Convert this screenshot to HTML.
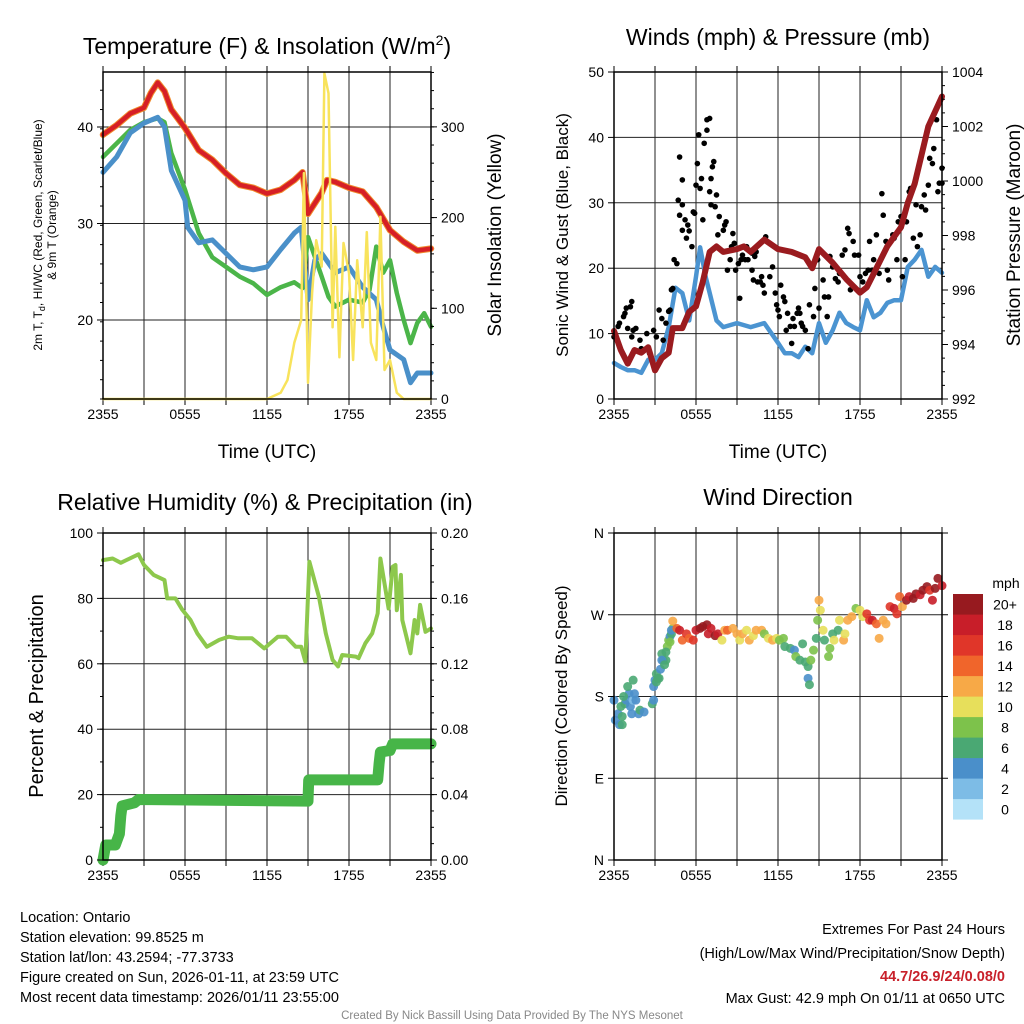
<!DOCTYPE html>
<html><head><meta charset="utf-8"><style>
html,body{margin:0;padding:0;background:#fff;}
svg{display:block;font-family:"Liberation Sans",sans-serif;}
</style></head><body>
<svg id="chart" width="1024" height="1024" viewBox="0 0 1024 1024" xmlns="http://www.w3.org/2000/svg">
<rect x="0" y="0" width="1024" height="1024" fill="#fff"/>
<text x="267" y="54" font-size="23" text-anchor="middle">Temperature (F) &amp; Insolation (W/m<tspan font-size="14" dy="-9">2</tspan><tspan dy="9">)</tspan></text>
<text x="778" y="45" font-size="23" text-anchor="middle">Winds (mph) &amp; Pressure (mb)</text>
<text x="265" y="510" font-size="23" text-anchor="middle">Relative Humidity (%) &amp; Precipitation (in)</text>
<text x="778" y="505" font-size="23" text-anchor="middle">Wind Direction</text>

<text x="267" y="458" font-size="19" text-anchor="middle">Time (UTC)</text>
<text x="778" y="458" font-size="19" text-anchor="middle">Time (UTC)</text>

<text transform="translate(42,235) rotate(-90)" font-size="12" text-anchor="middle">2m T, T<tspan font-size="9" dy="3">d</tspan><tspan dy="-3">, HI/WC (Red, Green, Scarlet/Blue)</tspan></text>
<text transform="translate(56,235) rotate(-90)" font-size="12" text-anchor="middle">&amp; 9m T (Orange)</text>
<text transform="translate(501,235) rotate(-90)" font-size="19" text-anchor="middle">Solar Insolation (Yellow)</text>
<text transform="translate(568,235) rotate(-90)" font-size="17" text-anchor="middle">Sonic Wind &amp; Gust (Blue, Black)</text>
<text transform="translate(1020,235) rotate(-90)" font-size="19" text-anchor="middle">Station Pressure (Maroon)</text>
<text transform="translate(43,696) rotate(-90)" font-size="20" text-anchor="middle">Percent &amp; Precipitation</text>
<text transform="translate(567,696) rotate(-90)" font-size="17" text-anchor="middle">Direction (Colored By Speed)</text>

<g font-size="14.5">
<text x="20" y="922">Location: Ontario</text>
<text x="20" y="942">Station elevation: 99.8525 m</text>
<text x="20" y="962">Station lat/lon: 43.2594; -77.3733</text>
<text x="20" y="982">Figure created on Sun, 2026-01-11, at 23:59 UTC</text>
<text x="20" y="1002">Most recent data timestamp: 2026/01/11 23:55:00</text>
</g>
<g font-size="14.5" text-anchor="end">
<text x="1005" y="934">Extremes For Past 24 Hours</text>
<text x="1005" y="958">(High/Low/Max Wind/Precipitation/Snow Depth)</text>
<text x="1005" y="981" fill="#c8202a" font-weight="bold">44.7/26.9/24/0.08/0</text>
<text x="1005" y="1003">Max Gust: 42.9 mph On 01/11 at 0650 UTC</text>
</g>
<text x="512" y="1019" font-size="11.5" fill="#888" text-anchor="middle">Created By Nick Bassill Using Data Provided By The NYS Mesonet</text>
<g id="layer"></g>
</svg>
<script>
// ---- Panel 1 data: hours, temperature series (F), solar (W/m2)
const tHours = [0,1,2,3,3.5,4,4.5,5,6,7,8,9,10,11,12,13,14,14.6,15,16,16.4,17,18,19,20,21,22,23,24];
const tempT = [39.2,40.2,41.4,42,43.5,44.6,43.7,41.8,39.9,37.6,36.6,35.2,34,33.7,33.1,33.5,34.5,35.3,31,33.2,34.5,34.3,33.7,33.3,31.7,29.3,28.1,27.2,27.4];
const hiHours = [0,1,2,3,4,4.5,5,6,7,8,9,10,11,12,13,14,14.6,15,16,16.5,17,18,19,19.5,20,20.5,21,21.5,22,22.5,23,23.5,24];
const heatIndex = [36.9,38.3,39.7,40.5,40.9,40.5,37.3,33.5,29,26.5,25.5,24.5,23.8,22.6,23.4,23.9,23.3,28.6,24.5,22.4,21.4,22.1,21.8,23.1,27.6,24.9,26.2,22.8,20,17.6,19.7,20.7,19.3];
const tdHours = [0,1,2,3,4,4.5,5,6,6.2,7,8,9,10,11,12,13,14,14.5,15,15.5,16,17,18,19,20,20.5,21,22,22.5,23,24];
const dewPoint = [35.3,36.9,39.4,40.4,41,40,35.5,32.4,29.6,28,28.3,26.9,25.5,25.2,25.5,27.3,29,29.6,22.1,26.2,26.9,24.9,25.5,23.4,22.1,19.3,16.9,15.9,13.5,14.5,14.5];
const solHours = [0,12,13,13.5,14,14.5,14.7,15,15.3,15.6,16,16.2,16.5,16.8,17,17.3,17.6,18,18.3,18.6,19,19.3,19.6,20,20.3,20.6,21,21.5,22,24];
const solar = [0,0,7,21,62,87,249,18,117,175,146,359,337,79,190,46,172,139,43,153,79,184,62,43,201,32,43,7,0,0];
const tempTicks = [20,30,40];
const solarTicks = [0,100,200,300];
const timeLabels = ["2355","0555","1155","1755","2355"];

// ---- Panel 2 data
const pHours = [0,0.5,1,1.5,2,2.5,3,3.5,4,4.3,5,5.5,6,6.5,7,7.5,8,9,9.5,10,11,12,13,14,14.5,15,16,17,18,18.5,19,20,21,21.5,22,23,24];
const pressure = [994.5,993.8,993.3,993.8,993.7,993.9,993.05,993.5,993.7,994.6,994.6,995.2,995.4,996.3,997.4,997.6,997.4,997.5,997.6,997.4,997.85,997.5,997.4,997.2,996.8,997.5,997,996.4,995.9,996.1,996.6,997.6,998.3,999.2,999.9,1002,1003.1];
const wHours = [0,0.5,1,1.5,2,2.5,3,3.5,4,4.5,5,5.5,6,6.3,6.7,7,7.5,8,9,10,11,12,12.5,13,13.5,14,14.5,15,15.5,16,16.5,17,17.5,18,18.5,19,19.5,20,20.5,21,21.5,22,22.5,23,23.5,24];
const windSpeed = [5.5,4.9,4.4,4.4,4,6,6,7,11,17,16.2,12,18.7,23.2,18.7,16.2,12,11,11.6,11,11.6,8.6,7,7,6.4,8,7,11.6,8.6,10.5,13.2,11.6,11,10.5,15.1,12.5,13.2,14.7,15.1,15.1,20.2,21.3,22.8,18.7,20.2,19.3];
const gusts = [[0,9.5],[0.3,11.1],[0.7,12.6],[0.9,13.9],[1.2,14.1],[1.3,14.9],[0.8,13.1],[0.4,11.6],[1.0,10.8],[1.4,10.5],[1.6,10.8],[1.3,9.5],[1.9,9],[2.0,7.7],[2.4,10],[2.6,7],[2.9,10.5],[3.1,9.5],[3.3,13.6],[3.5,12.3],[3.6,9],[3.8,11.6],[4.0,13.4],[4.1,13.6],[4.2,16.7],[4.3,16.9],[4.4,21.3],[4.6,20.7],[4.7,30.4],[4.8,37],[4.8,28.1],[5.0,33.5],[5.0,29.7],[5.0,25.8],[5.2,27.4],[5.3,24.6],[5.4,26.6],[5.5,25.7],[5.7,23.3],[5.8,28.6],[5.9,28.4],[6.0,32.7],[6.1,36],[6.2,40.4],[6.3,32.2],[6.4,33.7],[6.5,27.4],[6.6,39.1],[6.8,42.7],[6.8,41.1],[7.0,42.9],[7.0,31.7],[7.1,33.7],[7.1,29.7],[7.2,35.5],[7.3,36.3],[7.4,29.4],[7.5,31.2],[7.7,27.9],[7.6,25.1],[8.0,25.8],[8.1,26.6],[8.2,27.1],[8.3,19.7],[8.5,21.3],[8.6,23.3],[8.7,25.3],[8.8,23.8],[8.9,19.7],[9.1,20.7],[9.2,15.4],[9.3,21.3],[9.4,22],[9.6,21.3],[9.7,23.3],[9.8,21.3],[10.1,22.3],[10.1,19.7],[10.2,18.2],[10.3,21.8],[10.4,22.5],[10.5,17.9],[10.7,17.9],[10.8,18.7],[10.9,17.4],[11.0,16.2],[11.1,24.8],[11.4,18.7],[11.6,20.2],[11.8,16.2],[11.9,14.4],[12.0,13.6],[12.1,12.6],[12.2,17.4],[12.4,15.6],[12.5,14.9],[12.6,10.5],[12.7,13.1],[12.9,11.1],[13.0,8.5],[13.1,12.3],[13.2,11.1],[13.4,13.1],[13.5,13.9],[13.6,13.1],[13.7,11.6],[13.8,11.1],[14.0,10.5],[14.2,7.7],[14.3,14.4],[14.6,12.6],[14.7,16.9],[14.9,21.3],[15.0,13.9],[15.3,18.2],[15.4,15.6],[15.6,12.6],[15.7,15.6],[15.8,21.8],[16.0,20.2],[16.2,18.4],[16.4,17.9],[16.5,19.2],[16.7,22],[16.9,22.8],[17.1,26.1],[17.2,25.3],[17.3,16.7],[17.5,24.1],[17.6,22],[17.9,22],[18.0,18.7],[18.2,17.9],[18.4,19.2],[18.6,19.7],[18.7,24.1],[18.9,19.7],[19.0,21.3],[19.2,25.1],[19.4,19.2],[19.6,31.4],[19.7,28.1],[19.9,24.1],[20.0,19.7],[20.1,18.2],[20.4,25.1],[20.5,24.6],[20.7,21.3],[20.8,27.1],[21.0,27.9],[21.1,18.7],[21.3,21.3],[21.4,27.1],[21.6,31.7],[21.7,32.2],[21.9,24.6],[22.1,29.7],[22.2,23.3],[22.4,25.1],[22.5,29.4],[22.7,31.2],[22.8,28.9],[23.0,32.7],[23.1,36.8],[23.3,36],[23.4,38.3],[23.6,42.7],[23.7,31.7],[23.8,33],[24.0,35.3],[24.0,33]];
const windTicks = [0,10,20,30,40,50];
const pressureTicks = [992,994,996,998,1000,1002,1004];

// ---- Panel 3 data
const rhHours = [0,0.7,1.3,2.6,3,3.7,4.5,4.7,5.3,5.8,6.4,6.9,7.6,8.5,9.2,9.9,10.9,11.8,12.8,13.4,14.1,14.5,14.8,15.1,15.8,16.3,16.8,17.2,17.5,18.5,18.7,19.2,19.7,20.1,20.3,20.6,20.9,21.2,21.4,21.5,21.8,21.9,22.5,22.8,23.0,23.2,23.6,24];
const rh = [91.7,92.2,90.9,93.5,90.2,87.2,85.6,80,80,76.5,73.4,69.3,65.2,67.3,68.3,67.8,67.8,64.7,68.3,68.3,65.2,65.2,60.7,91.2,80.5,69.3,61.2,59.2,62.7,62.2,61.7,66.3,69.3,75.4,92.2,84.6,76.9,89.7,90.2,76.4,87.2,73.4,63.2,73.4,69.3,78,69.8,70.8];
const prHours = [0,0.2,0.9,1.2,1.3,1.4,2.3,2.6,15,15.05,20.1,20.2,20.3,21,21.2,24];
const precip = [0,0.0092,0.0092,0.016,0.027,0.033,0.035,0.037,0.036,0.049,0.049,0.059,0.066,0.067,0.071,0.071];
const rhTicks = [0,20,40,60,80,100];
const precipTicks = ["0.00","0.04","0.08","0.12","0.16","0.20"];

// ---- Panel 4 data: [hour, direction deg, speed mph]
const dirObs = [[0,176,4],[0.1,154,4],[0.3,161,4],[0.4,149,4],[0.5,169,6],[0.6,158,6],[0.8,172,6],[0.9,176,4],[1.1,183,4],[1.2,169,4],[1.3,161,4],[1.4,176,2],[1.5,183,4],[1.6,176,4],[1.8,161,4],[1.0,191,6],[1.4,198,6],[0.7,180,6],[0.6,149,6],[1.9,165,6],[2.2,163,4],[2.8,172,6],[2.9,176,4],[2.9,191,4],[3.0,198,4],[3.1,205,6],[3.2,200,6],[3.4,210,4],[3.5,227,6],[3.6,220,6],[3.8,220,6],[3.9,235,8],[4.0,242,8],[4.1,246,4],[4.2,249,6],[4.3,255,8],[3.1,196,6],[3.3,200,6],[3.5,220,4],[3.7,215,6],[3.8,229,6],[4.1,240,8],[4.2,253,4],[4.3,263,12],[4.6,255,14],[4.8,253,18],[5.0,242,14],[5.3,249,16],[5.5,244,14],[5.8,242,16],[6.0,253,18],[6.3,255,20],[6.5,257,20],[6.8,259,20],[6.9,249,18],[7.1,255,18],[7.4,247,20],[7.6,249,18],[7.9,242,10],[8.1,253,12],[8.3,253,14],[8.7,255,12],[9.0,249,12],[9.2,242,10],[9.4,249,12],[9.7,253,10],[9.9,242,12],[10.2,247,10],[10.4,253,12],[10.8,253,12],[11.0,249,8],[11.3,244,10],[11.6,242,12],[11.9,244,10],[12.1,242,8],[12.4,244,8],[12.5,235,6],[12.9,233,6],[13.2,231,4],[13.3,224,8],[13.6,220,6],[13.8,238,6],[14.0,218,6],[14.2,213,6],[14.2,200,4],[14.3,193,6],[14.4,220,8],[14.6,231,8],[14.8,244,6],[14.9,264,8],[15.0,286,12],[15.1,275,10],[15.3,253,10],[15.4,242,6],[15.7,224,8],[15.8,233,8],[16.0,249,6],[16.1,242,10],[16.4,253,6],[16.5,264,10],[16.8,242,12],[16.9,249,10],[17.1,264,12],[17.4,268,12],[17.7,277,8],[18.0,275,10],[18.2,268,10],[18.5,271,16],[18.7,264,16],[18.9,264,18],[19.2,260,14],[19.4,244,12],[19.7,264,12],[19.9,260,12],[20.2,279,16],[20.5,277,18],[20.7,271,16],[20.9,290,14],[21.1,279,12],[21.4,286,20],[21.6,290,18],[21.9,288,20],[22.1,293,20],[22.4,292,18],[22.6,297,20],[22.9,301,20],[23.1,297,16],[23.3,286,18],[23.5,299,20],[23.7,310,20],[24,302,18]];
const dirLabels = ["N","E","S","W","N"];
const speedBins = ["0","2","4","6","8","10","12","14","16","18","20+"];
const speedColors = ["#b4e2f8","#7dbce6","#4a8fca","#4aa873","#7dc24b","#e7df5b","#f7a947","#f0652b","#e03629","#c81e29","#971a1f"];

const NS="http://www.w3.org/2000/svg";
const layer=document.getElementById('layer');
function mk(tag,attrs,parent){const e=document.createElementNS(NS,tag);for(const k in attrs)e.setAttribute(k,attrs[k]);(parent||layer).appendChild(e);return e;}

const P1={x0:103,x1:431,y0:72,y1:399};
const P2={x0:614,x1:942,y0:72,y1:399};
const P3={x0:103,x1:431,y0:533,y1:860};
const P4={x0:614,x1:942,y0:533,y1:860};
function xs(p,h){return p.x0+(p.x1-p.x0)*h/24;}
function ys(p,v,mn,mx){return p.y1-(v-mn)/(mx-mn)*(p.y1-p.y0);}
const T_MIN=11.81,T_MAX=45.7,S_MIN=0,S_MAX=360.5,W_MIN=0,W_MAX=50,PR_MIN=992,PR_MAX=1004;

function frame(p,name,hGrid,gMin,gMax){
  const g=mk('g',{});
  
  
  for(let h=3;h<24;h+=3){const x=xs(p,h);mk('line',{x1:x,x2:x,y1:p.y0,y2:p.y1,stroke:'#222','stroke-width':1},g);}
  hGrid.forEach(v=>{const y=ys(p,v,gMin,gMax);mk('line',{x1:p.x0,x2:p.x1,y1:y,y2:y,stroke:'#222','stroke-width':1},g);});
  // top/bottom ticks
  for(let h=0;h<=24;h+=3){const x=xs(p,h);mk('line',{x1:x,x2:x,y1:p.y0-6,y2:p.y0,stroke:'#000'},g);mk('line',{x1:x,x2:x,y1:p.y1,y2:p.y1+6,stroke:'#000'},g);}
  timeLabels.forEach((t,i)=>{const tx=mk('text',{x:xs(p,i*6),y:p.y1+20,'font-size':14,'text-anchor':'middle'},g);tx.textContent=t;
    
    });
}
function border(p,name){const r=mk('rect',{x:p.x0,y:p.y0,width:p.x1-p.x0,height:p.y1-p.y0,fill:'none',stroke:'#000','stroke-width':1.5});
  
  }
function yTicks(p,vals,labels,mn,mx,side,name,minorStep){
  const g=mk('g',{});
  
  
  const bx=side==='left'?p.x0:p.x1,d=side==='left'?-1:1;
  if(minorStep){for(let v=mn;v<=mx+1e-9;v+=minorStep){const y=ys(p,v,mn,mx);mk('line',{x1:bx,x2:bx+d*3,y1:y,y2:y,stroke:'#000'},g);}}
  vals.forEach((v,i)=>{const y=ys(p,v,mn,mx);mk('line',{x1:bx,x2:bx+d*6,y1:y,y2:y,stroke:'#000'},g);
    const t=mk('text',{x:bx+d*10,y:y+5,'font-size':14,'text-anchor':side==='left'?'end':'start'},g);t.textContent=labels[i];});
}
function path(p,hs,vs,mn,mx,attrs,name){
  const d=hs.map((h,i)=>(i?'L':'M')+xs(p,h).toFixed(1)+','+ys(p,vs[i],mn,mx).toFixed(1)).join('');
  const e=mk('path',Object.assign({d:d,fill:'none','stroke-linejoin':'round','stroke-linecap':'round'},attrs));
  
  
  return e;
}

// Panel 1
frame(P1,'temp',tempTicks,T_MIN,T_MAX);
path(P1,tHours,tempT,T_MIN,T_MAX,{stroke:'#f08a2c','stroke-width':6.5},'temp-9m-line');
path(P1,tHours,tempT,T_MIN,T_MAX,{stroke:'#d61f26','stroke-width':4.5},'temp-2m-line');
path(P1,hiHours,heatIndex,T_MIN,T_MAX,{stroke:'#4bb549','stroke-width':4.5},'heat-index-line');
path(P1,tdHours,dewPoint,T_MIN,T_MAX,{stroke:'#4a90c9','stroke-width':5},'dewpoint-line');
path(P1,solHours,solar,S_MIN,S_MAX,{stroke:'#f8e35c','stroke-width':2.5},'solar-line');
border(P1,'temp');
yTicks(P1,tempTicks,tempTicks.map(String),T_MIN,T_MAX,'left','temp-y-ticks',2);
yTicks(P1,solarTicks,solarTicks.map(String),S_MIN,S_MAX,'right','solar-y-ticks',20);

// Panel 2
frame(P2,'winds',[10,20,30,40],W_MIN,W_MAX);
path(P2,wHours,windSpeed,W_MIN,W_MAX,{stroke:'#4b94d1','stroke-width':4.5},'sonic-wind-line');
gusts.forEach(g=>{const c=mk('circle',{cx:xs(P2,g[0]),cy:ys(P2,g[1],W_MIN,W_MAX),r:2.8,fill:'#000'});
  
  });
path(P2,pHours,pressure,PR_MIN,PR_MAX,{stroke:'#9a1b1f','stroke-width':6},'pressure-line');
border(P2,'winds');
yTicks(P2,windTicks,windTicks.map(String),W_MIN,W_MAX,'left','wind-y-ticks',null);
yTicks(P2,pressureTicks,pressureTicks.map(String),PR_MIN,PR_MAX,'right','pressure-y-ticks',0.5);

// Panel 3
frame(P3,'rh',[20,40,60,80],0,100);
path(P3,rhHours,rh,0,100,{stroke:'#8dc84c','stroke-width':4},'rh-line');
path(P3,prHours,precip,0,0.2,{stroke:'#47b548','stroke-width':11},'precip-line');
border(P3,'rh');
yTicks(P3,rhTicks,rhTicks.map(String),0,100,'left','rh-y-ticks',10);
yTicks(P3,[0,0.04,0.08,0.12,0.16,0.2],precipTicks,0,0.2,'right','precip-y-ticks',0.01);

// Panel 4
frame(P4,'direction',[90,180,270],0,360);
function binColor(s){let i=Math.round(s/2);if(i>10)i=10;if(i<0)i=0;return speedColors[i];}
dirObs.forEach(o=>{const c=mk('circle',{cx:xs(P4,o[0]),cy:ys(P4,o[1],0,360),r:4.5,fill:binColor(o[2]),'fill-opacity':0.9});
  
  });
border(P4,'direction');
yTicks(P4,[0,90,180,270,360],dirLabels,0,360,'left','direction-y-ticks',null);
yTicks(P4,[0,90,180,270,360],["","","","",""],0,360,'right','direction-right-ticks',null);

// Colorbar
const cb=mk('g',{});


const cbT=mk('text',{x:1006,y:588,'font-size':14,'text-anchor':'middle'},cb);cbT.textContent='mph';
speedBins.forEach((lab,i)=>{const k=10-i;const y=594+k*20.5;
  const r=mk('rect',{x:953,y:y,width:30,height:20.6,fill:speedColors[i]},cb);
  
  
  const t=mk('text',{x:1005,y:y+15.5,'font-size':14,'text-anchor':'middle'},cb);t.textContent=lab;});
</script>
</body></html>
